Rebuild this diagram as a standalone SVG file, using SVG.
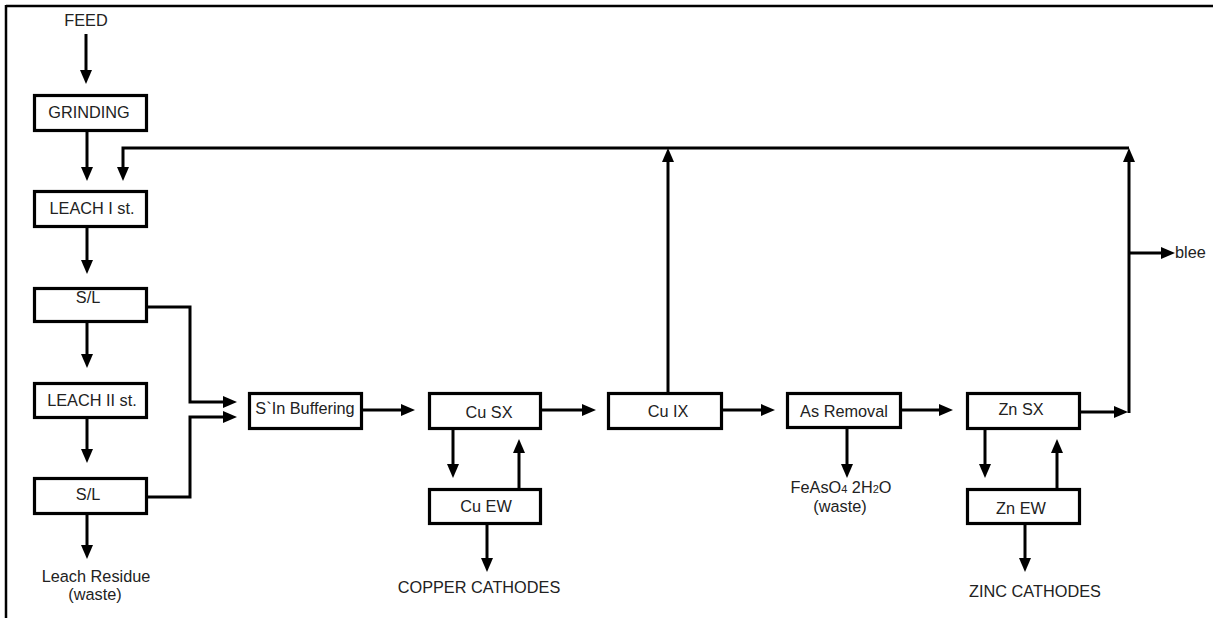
<svg xmlns="http://www.w3.org/2000/svg" width="1213" height="618" viewBox="0 0 1213 618">
<style>
.box{fill:#fff;stroke:#000;stroke-width:3.2}
.ln{fill:none;stroke:#000;stroke-width:3}
.ar{fill:none;stroke:#000;stroke-width:3;marker-end:url(#ah)}
.t{font-family:"Liberation Sans",Arial,sans-serif;font-size:16.3px;fill:#222;text-anchor:middle}
.tl{font-family:"Liberation Sans",Arial,sans-serif;font-size:16.3px;fill:#222}
.sub{font-size:11px}
</style>
<defs>
<marker id="ah" markerUnits="userSpaceOnUse" markerWidth="15" markerHeight="14" refX="9" refY="6.5" orient="auto">
<path d="M0,0.5 L14,6.5 L0,12.5 z" fill="#000"/>
</marker>
</defs>
<g id="frame">
<line x1="6" y1="6" x2="1213" y2="6" stroke="#000" stroke-width="2.5"/>
<line x1="6" y1="5" x2="6" y2="618" stroke="#000" stroke-width="2.5"/>
</g>
<g id="connectors">
<line class="ar" x1="86" y1="34" x2="86" y2="79"/>
<line class="ar" x1="87" y1="132" x2="87" y2="176"/>
<polyline class="ar" points="1129,148 123,148 123,176"/>
<line class="ar" x1="668" y1="392" x2="668" y2="153"/>
<line class="ar" x1="87" y1="228" x2="87" y2="269"/>
<line class="ar" x1="87" y1="322" x2="87" y2="363"/>
<polyline class="ar" points="148,307 190,307 190,402 232,402"/>
<line class="ar" x1="87" y1="419" x2="87" y2="458"/>
<polyline class="ar" points="148,497 190,497 190,417 232,417"/>
<line class="ar" x1="87" y1="515" x2="87" y2="554"/>
<line class="ar" x1="363" y1="410" x2="410" y2="410"/>
<line class="ar" x1="542" y1="410" x2="591" y2="410"/>
<line class="ar" x1="453" y1="430" x2="453" y2="473"/>
<line class="ar" x1="519" y1="488" x2="519" y2="444"/>
<line class="ar" x1="487" y1="525" x2="487" y2="567"/>
<line class="ar" x1="723" y1="410" x2="770" y2="410"/>
<line class="ar" x1="847" y1="429" x2="847" y2="473"/>
<line class="ar" x1="902" y1="410" x2="948" y2="410"/>
<line class="ar" x1="1081" y1="412" x2="1123" y2="412"/>
<line class="ar" x1="1129" y1="413" x2="1129" y2="153"/>
<line class="ar" x1="985" y1="430" x2="985" y2="473"/>
<line class="ar" x1="1057" y1="488" x2="1057" y2="444"/>
<line class="ar" x1="1025" y1="525" x2="1025" y2="567"/>
<line class="ar" x1="1129" y1="253" x2="1170" y2="253"/>
</g>
<g id="feed"><text class="t" x="86" y="26">FEED</text></g>
<g id="grinding"><rect class="box" x="34.5" y="95.5" width="112" height="35"/><text class="t" x="89" y="118">GRINDING</text></g>
<g id="leach1"><rect class="box" x="34.5" y="191.5" width="112" height="35"/><text class="t" x="92" y="214">LEACH  I st.</text></g>
<g id="sl1"><rect class="box" x="34.5" y="288.5" width="112" height="33"/><text class="t" x="88" y="303">S/L</text></g>
<g id="leach2"><rect class="box" x="34.5" y="383.5" width="112" height="34"/><text class="t" x="92" y="406">LEACH  II st.</text></g>
<g id="sl2"><rect class="box" x="34.5" y="478.5" width="112" height="35"/><text class="t" x="88" y="500">S/L</text></g>
<g id="residue"><text class="t" x="96" y="582">Leach Residue</text><text class="t" x="95" y="600">(waste)</text></g>
<g id="buffering"><rect class="box" x="249.5" y="393.5" width="112" height="35"/><text class="t" x="305" y="414">S`In Buffering</text></g>
<g id="cusx"><rect class="box" x="429.5" y="393.5" width="111" height="35"/><text class="t" x="489" y="418">Cu SX</text></g>
<g id="cuew"><rect class="box" x="429.5" y="489.5" width="111" height="34"/><text class="t" x="486" y="512">Cu EW</text></g>
<g id="copper"><text class="t" x="479" y="593">COPPER CATHODES</text></g>
<g id="cuix"><rect class="box" x="608.5" y="393.5" width="113" height="35"/><text class="t" x="668" y="417">Cu IX</text></g>
<g id="asremoval"><rect class="box" x="787.5" y="393.5" width="113" height="34"/><text class="t" x="844" y="417">As Removal</text></g>
<g id="feaso4"><text class="t" x="841" y="493">FeAsO<tspan class="sub">4</tspan> 2H<tspan class="sub">2</tspan>O</text><text class="t" x="840" y="512">(waste)</text></g>
<g id="znsx"><rect class="box" x="967.5" y="393.5" width="112" height="35"/><text class="t" x="1021" y="415">Zn SX</text></g>
<g id="znew"><rect class="box" x="967.5" y="489.5" width="112" height="34"/><text class="t" x="1021" y="514">Zn EW</text></g>
<g id="zinc"><text class="t" x="1035" y="597">ZINC CATHODES</text></g>
<g id="bleed"><text class="tl" x="1175" y="258">blee</text></g>
</svg>
